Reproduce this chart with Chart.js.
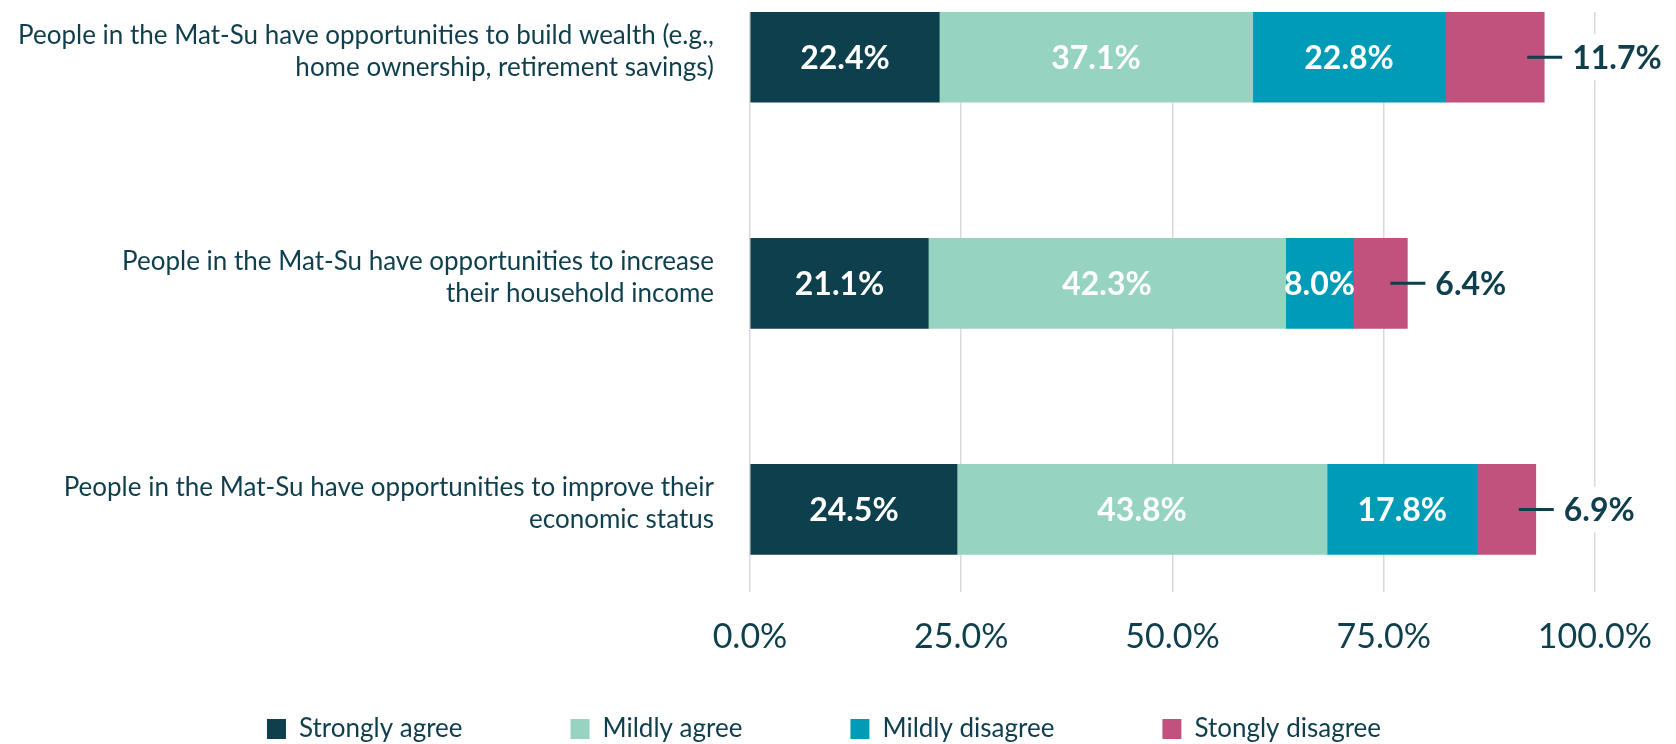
<!DOCTYPE html>
<html>
<head>
<meta charset="utf-8">
<script src="https://cdn.jsdelivr.net/npm/chart.js@4.4.1/dist/chart.umd.min.js"></script>
<style>
  html, body { margin: 0; padding: 0; background: #ffffff; }
  #wrap { width: 1676px; height: 744px; }
</style>
</head>
<body>
<div id="wrap"><canvas id="opportunityChart" width="1676" height="744"></canvas></div>
<script>
'use strict';

// 質問（左側のラベル、2行ずつ）
const categories = [
  ['People in the Mat-Su have opportunities to build wealth (e.g.,', 'home ownership, retirement savings)'],
  ['People in the Mat-Su have opportunities to increase', 'their household income'],
  ['People in the Mat-Su have opportunities to improve their', 'economic status']
];
const seriesNames = ['Strongly agree', 'Mildly agree', 'Mildly disagree', 'Stongly disagree'];
const stronglyAgree = [22.4, 21.1, 24.5];
const mildlyAgree = [37.1, 42.3, 43.8];
const mildlyDisagree = [22.8, 8.0, 17.8];
const stronglyDisagree = [11.7, 6.4, 6.9];
const xTicks = [0, 25, 50, 75, 100];

const darkText = '#0f3f4c';
const colors = ['#0e3f4c', '#96d4c1', '#009cb7', '#c0527d'];

Chart.defaults.font.family = 'Lato, "Open Sans", sans-serif';
Chart.defaults.color = darkText;

function toPoints(values){
  return values.map((v, i) => ({x: v, y: i}));
}

// バーの中と外に数値を書く
const barLabels = {
  id: 'barLabels',
  afterDatasetsDraw(chart){
    const ctx = chart.ctx;
    const last = chart.data.datasets.length - 1;
    ctx.save();
    ctx.font = 'bold 32px Lato, "Open Sans", sans-serif';
    ctx.textBaseline = 'middle';
    chart.data.datasets.forEach((ds, di) => {
      const meta = chart.getDatasetMeta(di);
      meta.data.forEach((bar, i) => {
        const text = ds.data[i].x.toFixed(1) + '%';
        if(di < last){
          ctx.fillStyle = '#ffffff';
          ctx.textAlign = 'center';
          ctx.fillText(text, (bar.x + bar.base) / 2, bar.y + 1);
        }else{
          const w = ctx.measureText(text).width;
          ctx.fillStyle = '#ffffff';
          ctx.fillRect(bar.x + 24, bar.y - 23, w + 10, 46);
          ctx.strokeStyle = darkText;
          ctx.lineWidth = 3;
          ctx.beginPath();
          ctx.moveTo(bar.x - 17, bar.y);
          ctx.lineTo(bar.x + 18, bar.y);
          ctx.stroke();
          ctx.fillStyle = darkText;
          ctx.textAlign = 'left';
          ctx.fillText(text, bar.x + 28, bar.y + 1);
        }
      });
    });
    ctx.restore();
  }
};

// 凡例の間隔を広くしたいので位置だけ動かす
const legendShift = {
  id: 'legendShift',
  afterLayout(chart){
    const lg = chart.legend;
    lg.top = 608;
    lg.bottom = 744;
    lg.left += 24;
    lg.right += 24;
  }
};

const chart = new Chart(document.getElementById('opportunityChart'), {
  type: 'bar',
  data: {
    datasets: [
      {label: seriesNames[0], data: toPoints(stronglyAgree), backgroundColor: colors[0]},
      {label: seriesNames[1], data: toPoints(mildlyAgree), backgroundColor: colors[1]},
      {label: seriesNames[2], data: toPoints(mildlyDisagree), backgroundColor: colors[2]},
      {label: seriesNames[3], data: toPoints(stronglyDisagree), backgroundColor: colors[3]}
    ]
  },
  options: {
    indexAxis: 'y',
    responsive: false,
    animation: false,
    maintainAspectRatio: false,
    barThickness: 90,
    borderWidth: 0,
    layout: {padding: {top: 12, right: 76, left: 0, bottom: 0}},
    scales: {
      x: {
        type: 'linear',
        stacked: true,
        min: 0,
        max: 100,
        afterBuildTicks: (s) => { s.ticks = xTicks.map(v => ({value: v})); },
        ticks: {
          padding: 24,
          font: {size: 34},
          color: darkText,
          callback: (v) => v.toFixed(1) + '%'
        },
        grid: {color: '#d9d9d9', lineWidth: 1.5, drawTicks: false},
        border: {display: false}
      },
      y: {
        type: 'linear',
        stacked: true,
        reverse: true,
        offset: false,
        min: -0.2,
        max: 2.366,
        afterBuildTicks: (s) => { s.ticks = categories.map((c, i) => ({value: i})); },
        afterFit: (s) => { s.width = 750; s.paddingTop = 0; s.paddingBottom = 0; },
        ticks: {
          autoSkip: false,
          padding: 36,
          labelOffset: -6,
          font: {size: 26, lineHeight: 1.23},
          color: darkText,
          callback: (v) => categories[v]
        },
        grid: {display: false, drawTicks: false, offset: false},
        border: {display: false}
      }
    },
    plugins: {
      legend: {
        position: 'bottom',
        maxHeight: 63,
        labels: {
          boxWidth: 19,
          boxHeight: 20,
          padding: 108,
          font: {size: 26},
          color: darkText
        }
      },
      tooltip: {enabled: false}
    }
  },
  plugins: [barLabels, legendShift]
});
</script>
</body>
</html>
